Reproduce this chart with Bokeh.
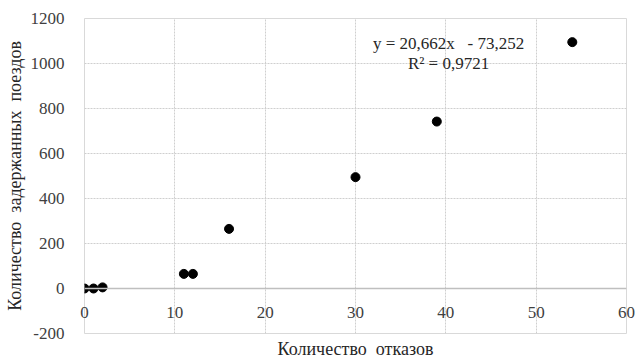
from bokeh.plotting import figure
from bokeh.models import Range1d, FixedTicker, Label, Span, PrintfTickFormatter
from bokeh.embed import file_html
from bokeh.resources import INLINE

# data
failures = [0, 1, 2, 11, 12, 16, 30, 39, 54]
delayed = [0, 0, 5, 65, 65, 265, 495, 742, 1095]
x_ticks = [0, 10, 20, 30, 40, 50, 60]
y_ticks = [-200, 0, 200, 400, 600, 800, 1000, 1200]
NB = "\u00a0"
eq_line1 = "y = 20,662x" + NB + NB + " - 73,252"
eq_line2 = "R² = 0,9721"
x_title = "Количество" + NB + " отказов"
y_title = "Количество" + NB + " задержанных" + NB + " поездов"

FONT = "Liberation Serif"
TICK_SIZE = "17px"
TITLE_SIZE = "18px"
TICK_COLOR = "#404040"
TITLE_COLOR = "#262626"

p = figure(width=642, height=361, output_backend="svg", toolbar_location=None,
           x_range=Range1d(0, 60), y_range=Range1d(-200, 1200),
           min_border_left=84, min_border_right=16, min_border_top=18, min_border_bottom=26)
p.background_fill_color = "white"
p.border_fill_color = "white"
p.outline_line_color = "#d9d9d9"

# grid
for g in (p.xgrid, p.ygrid):
    g.grid_line_color = "#cfcfcf"
    g.grid_line_dash = "2 1"
p.xgrid.ticker = FixedTicker(ticks=x_ticks)
p.ygrid.ticker = FixedTicker(ticks=y_ticks)

# horizontal axis line at y = 0
p.add_layout(Span(location=0, dimension="width", line_color="#bfbfbf", line_width=1.5))

p.scatter(failures, delayed, size=9, color="black")

# x axis below; tick labels pulled up inside the frame to sit under the y = 0 line
xa = p.xaxis[0]
xa.ticker = FixedTicker(ticks=x_ticks)
xa.axis_line_color = None
xa.major_tick_line_color = None
xa.minor_tick_line_color = None
xa.major_label_standoff = -33
xa.major_label_text_font = FONT
xa.major_label_text_font_size = TICK_SIZE
xa.major_label_text_color = TICK_COLOR
xa.axis_label = x_title
xa.axis_label_text_font = FONT
xa.axis_label_text_font_size = TITLE_SIZE
xa.axis_label_text_font_style = "normal"
xa.axis_label_text_color = TITLE_COLOR
xa.axis_label_standoff = 18

ya = p.yaxis[0]
ya.ticker = FixedTicker(ticks=y_ticks)
ya.formatter = PrintfTickFormatter(format="%d")
ya.axis_line_color = None
ya.major_tick_line_color = None
ya.minor_tick_line_color = None
ya.major_label_standoff = 14
ya.major_label_text_font = FONT
ya.major_label_text_font_size = TICK_SIZE
ya.major_label_text_color = TICK_COLOR
ya.axis_label = y_title
ya.axis_label_text_font = FONT
ya.axis_label_text_font_size = TITLE_SIZE
ya.axis_label_text_font_style = "normal"
ya.axis_label_text_color = TITLE_COLOR
ya.axis_label_standoff = 3

eq_x = 40.3
for txt, yy in ((eq_line1, 1090), (eq_line2, 1002)):
    p.add_layout(Label(x=eq_x, y=yy, text=txt, text_align="center", text_baseline="middle",
                       text_font=FONT, text_font_size=TICK_SIZE, text_color=TITLE_COLOR))

open("out.html", "w").write(file_html(p, INLINE))
